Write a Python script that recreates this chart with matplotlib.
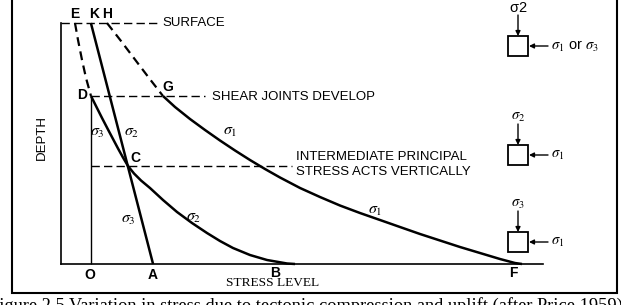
import numpy as np
import matplotlib.pyplot as plt
from matplotlib.patches import Rectangle

# stress level (0-100) / depth (0 = surface, 100 = base)
s_ED = [2.90, 3.53, 4.36, 5.19, 6.22]          # sigma3 above shear joints (dashed)
d_ED = [0.0, 7.05, 15.35, 22.82, 30.29]
s_DCB = [6.22, 7.26, 8.51, 9.75, 10.79, 11.83, 12.86, 13.90, 15.15, 16.60, 18.46,
         21.16, 24.07, 27.18, 30.29, 32.99, 35.68, 39.21, 42.74, 46.89, 48.55]
d_DCB = [30.29, 34.44, 39.42, 44.19, 48.13, 52.07, 55.81, 59.34, 62.45, 65.35, 68.46,
         73.44, 78.42, 82.99, 87.14, 90.46, 93.36, 96.27, 98.34, 99.79, 100.0]
s_KA = [6.2, 19.1]                              # straight line K - C - A
d_KA = [0.0, 100.0]
s_HG = [9.54, 12.45, 15.35, 18.26, 21.16]       # sigma1 above G (dashed)
d_HG = [0.0, 7.47, 15.15, 22.82, 30.29]
s_GF = [21.16, 23.65, 26.76, 29.88, 32.99, 36.10, 39.21, 42.32, 45.44, 49.59, 53.73,
        57.88, 62.03, 66.18, 70.33, 74.48, 78.63, 82.78, 86.93, 91.08, 94.19, 95.64]
d_GF = [30.29, 34.85, 39.83, 44.40, 48.76, 52.90, 56.85, 60.58, 64.11, 68.46, 72.20,
        75.73, 78.84, 81.74, 84.65, 87.55, 90.25, 92.95, 95.44, 97.93, 99.59, 100.0]

O_s = 6.2
D_depth = 30.3
C_depth = 59.3

point_names = ['E', 'K', 'H', 'D', 'G', 'C', 'O', 'A', 'B', 'F']
point_s = [2.9, 6.8, 9.5, 4.4, 22.2, 15.4, 6.0, 19.1, 44.4, 93.8]
point_d = [-3.7, -3.7, -3.7, 29.9, 26.6, 56.0, 104.5, 104.5, 103.7, 103.7]

sig_labels = [r'$\sigma_3$', r'$\sigma_2$', r'$\sigma_1$', r'$\sigma_3$', r'$\sigma_2$', r'$\sigma_1$']
sig_s = [7.5, 14.7, 35.1, 13.9, 27.6, 65.1]
sig_d = [45.6, 45.6, 45.0, 81.7, 80.9, 77.6]

caption = 'Figure 2.5 Variation in stress due to tectonic compression and uplift (after Price 1959)'

plt.rcParams['font.family'] = ['Liberation Sans', 'DejaVu Sans']
plt.rcParams['mathtext.fontset'] = 'stix'

W, H = 621, 305
fig = plt.figure(figsize=(W / 100, H / 100), dpi=100)

# overlay in pixel units for frame, caption and stress boxes
ov = fig.add_axes([0, 0, 1, 1])
ov.set_xlim(0, W)
ov.set_ylim(H, 0)
ov.axis('off')

# main diagram
ax = fig.add_axes([61 / W, (H - 264) / H, 482 / W, 241 / H])
ax.set_xlim(0, 100)
ax.set_ylim(100, 0)
ax.set_xticks([])
ax.set_yticks([])
for sp in ['top', 'right']:
    ax.spines[sp].set_visible(False)
for sp in ['left', 'bottom']:
    ax.spines[sp].set_linewidth(1.2)
ax.patch.set_alpha(0)

kw = dict(color='black', clip_on=False, solid_capstyle='butt', solid_joinstyle='round')
ax.plot(s_ED, d_ED, lw=1.6, ls=(0, (4, 2.5)), **kw)
ax.plot(s_DCB, d_DCB, lw=1.8, **kw)
ax.plot(s_KA, d_KA, lw=1.8, **kw)
ax.plot(s_HG, d_HG, lw=1.6, ls=(0, (4, 2.5)), **kw)
ax.plot(s_GF, d_GF, lw=1.8, **kw)

# O line and reference dashed lines
ax.plot([O_s, O_s], [D_depth, 100], lw=1.0, **kw)
ax.plot([0, 19.9], [0, 0], lw=1.0, ls=(0, (6, 3)), **kw)
ax.plot([O_s, 29.9], [D_depth, D_depth], lw=1.0, ls=(0, (6, 3)), **kw)
ax.plot([O_s, 47.9], [C_depth, C_depth], lw=1.0, ls=(0, (6, 3)), **kw)

ax.text(21.0, 0, 'SURFACE', fontsize=9.5, va='center', ha='left')
ax.text(31.3, 30.7, 'SHEAR JOINTS DEVELOP', fontsize=9.5, va='center', ha='left')
ax.text(48.8, 55.6, 'INTERMEDIATE PRINCIPAL', fontsize=9.5, va='center', ha='left')
ax.text(48.8, 61.8, 'STRESS ACTS VERTICALLY', fontsize=9.5, va='center', ha='left')

for n, s, d in zip(point_names, point_s, point_d):
    ax.text(s, d, n, fontsize=10, ha='center', va='center', fontweight='bold')
for t, s, d in zip(sig_labels, sig_s, sig_d):
    ax.text(s, d, t, fontsize=11.5, ha='center', va='center')

# outer frame
ov.add_patch(Rectangle((12, -5), 605, 298, fill=False, lw=1.5, ec='black', clip_on=False))

ov.text(42, 138, 'DEPTH', rotation=90, fontsize=9.5, ha='center', va='center')
ov.text(273, 283, 'STRESS LEVEL', fontsize=9.6, ha='center', va='center',
        family='Liberation Serif')
ov.text(306, 311, caption, fontsize=13.2, ha='center', va='baseline',
        family='Liberation Serif')

# stress boxes on the right
box_top = [36, 145, 232]
top_labels = [r'$\mathregular{\sigma2}$', r'$\sigma_2$', r'$\sigma_3$']
side_labels = [r'$\sigma_1$ or $\sigma_3$', r'$\sigma_1$', r'$\sigma_1$']
for yt, tl, sl in zip(box_top, top_labels, side_labels):
    ov.add_patch(Rectangle((508, yt), 20, 20, fill=False, lw=1.3, ec='black'))
    ov.annotate('', xy=(518, yt), xytext=(518, yt - 21),
                arrowprops=dict(arrowstyle='-|>', lw=1.0, color='black',
                                mutation_scale=7, shrinkA=0, shrinkB=0))
    ov.annotate('', xy=(529, yt + 10), xytext=(548, yt + 10),
                arrowprops=dict(arrowstyle='-|>', lw=1.0, color='black',
                                mutation_scale=7, shrinkA=0, shrinkB=0))
    ov.text(518, yt - 28, tl, fontsize=10.5, ha='center', va='center')
    ov.text(551, yt + 10, sl, fontsize=10.5, ha='left', va='center')

fig.savefig('out.png', dpi=100)
